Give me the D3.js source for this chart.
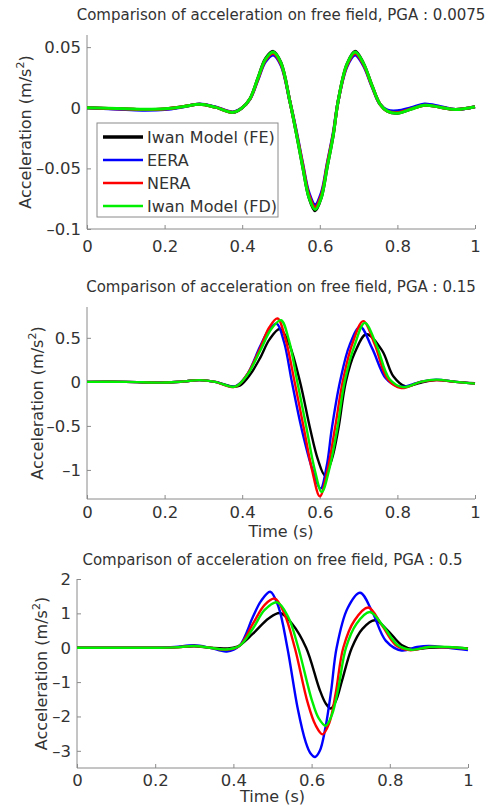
<!DOCTYPE html>
<html>
<head>
<meta charset="utf-8">
<script src="https://cdn.jsdelivr.net/npm/d3@7"></script>
<style>
body { margin: 0; background: #fff; }
svg text { font-family: "DejaVu Sans", sans-serif; fill: #333; }
.axis path, .axis line { stroke: #8a8a8a; }
.axis text { font-size: 16.5px; fill: #333; }
</style>
</head>
<body>
<script>
// ---- data ----
var seriesNames = ["Iwan Model (FE)", "EERA", "NERA", "Iwan Model (FD)"];
var seriesColors = ["#000000", "#0000ff", "#ff0000", "#00ee00"];

var xTicks = [0, 0.2, 0.4, 0.6, 0.8, 1];
var xTickLabels = ["0", "0.2", "0.4", "0.6", "0.8", "1"];

// panel 1, PGA 0.0075 (shared time axis)
var p1Time = [0, 0.1, 0.15, 0.2, 0.25, 0.29, 0.33, 0.377, 0.4, 0.42, 0.44, 0.46, 0.48, 0.5, 0.523, 0.54, 0.556, 0.572, 0.588, 0.604, 0.619, 0.635, 0.647, 0.67, 0.691, 0.712, 0.735, 0.755, 0.775, 0.8, 0.835, 0.87, 0.91, 0.95, 1.0];
var p1FE   = [0, -0.001, -0.0015, -0.001, 0.001, 0.0028, 0.0005, -0.0038, 0, 0.0075, 0.024, 0.0405, 0.0465, 0.0372, 0.005, -0.022, -0.049, -0.074, -0.085, -0.074, -0.049, -0.022, 0.005, 0.036, 0.0465, 0.037, 0.018, 0.003, -0.003, -0.0045, -0.001, 0.002, 0.0005, -0.0015, 0.0008];
var p1EERA = [0, -0.0015, -0.002, -0.0015, 0.0008, 0.003, 0.0008, -0.0035, 0, 0.007, 0.0225, 0.038, 0.0435, 0.035, 0.005, -0.02, -0.046, -0.07, -0.080, -0.07, -0.046, -0.02, 0.005, 0.034, 0.0435, 0.035, 0.017, 0.003, -0.002, -0.0025, 0, 0.003, 0.001, -0.0015, 0.0008];
var p1NERA = [0, -0.001, -0.0015, -0.001, 0.001, 0.0028, 0.0005, -0.0037, 0, 0.0072, 0.0232, 0.0392, 0.045, 0.036, 0.005, -0.021, -0.047, -0.072, -0.082, -0.072, -0.047, -0.021, 0.005, 0.035, 0.045, 0.036, 0.0175, 0.003, -0.003, -0.004, -0.001, 0.002, 0.0005, -0.0015, 0.0008];
var p1FD   = [0, -0.0008, -0.0012, -0.0008, 0.001, 0.0028, 0.0005, -0.0038, 0, 0.0074, 0.024, 0.04, 0.046, 0.037, 0.005, -0.022, -0.049, -0.074, -0.084, -0.074, -0.049, -0.022, 0.005, 0.036, 0.046, 0.037, 0.018, 0.003, -0.003, -0.0045, -0.0012, 0.002, 0.0005, -0.0015, 0.0008];
var p1YTicks = [-0.1, -0.05, 0, 0.05];

// panel 2, PGA 0.15  ([time, acceleration])
var p2FE = [[0,0],[0.1,0],[0.2,-0.008],[0.25,0.005],[0.29,0.02],[0.33,0],[0.377,-0.055],[0.395,-0.04],[0.42,0.08],[0.446,0.27],[0.47,0.48],[0.497,0.60],[0.52,0.44],[0.549,0],[0.575,-0.53],[0.595,-0.88],[0.613,-1.06],[0.631,-0.88],[0.648,-0.53],[0.667,0],[0.69,0.33],[0.72,0.54],[0.76,0.36],[0.79,0.06],[0.82,-0.05],[0.86,-0.01],[0.9,0.02],[0.95,0],[1.0,-0.015]];
var p2EERA = [[0,0],[0.1,0],[0.2,-0.008],[0.25,0.005],[0.29,0.02],[0.33,0],[0.377,-0.055],[0.39,-0.03],[0.415,0.1],[0.446,0.40],[0.47,0.6],[0.489,0.66],[0.508,0.45],[0.528,0],[0.553,-0.53],[0.58,-0.98],[0.602,-1.21],[0.618,-0.95],[0.631,-0.53],[0.652,0],[0.677,0.42],[0.704,0.625],[0.735,0.38],[0.77,0.04],[0.8,-0.05],[0.815,-0.055],[0.86,0],[0.9,0.025],[0.95,0],[1.0,-0.02]];
var p2NERA = [[0,0],[0.1,0],[0.2,-0.008],[0.25,0.005],[0.29,0.02],[0.33,0],[0.377,-0.06],[0.39,-0.035],[0.415,0.1],[0.446,0.38],[0.47,0.62],[0.491,0.72],[0.512,0.48],[0.535,0],[0.559,-0.53],[0.58,-1.0],[0.6,-1.30],[0.62,-1.0],[0.639,-0.53],[0.659,0],[0.683,0.42],[0.712,0.69],[0.742,0.42],[0.775,0.03],[0.81,-0.07],[0.86,0],[0.9,0.02],[0.95,0],[1.0,-0.02]];
var p2FD = [[0,0],[0.1,0],[0.2,-0.008],[0.25,0.005],[0.29,0.02],[0.33,0],[0.377,-0.058],[0.39,-0.035],[0.415,0.09],[0.446,0.35],[0.475,0.6],[0.50,0.70],[0.52,0.48],[0.542,0],[0.566,-0.53],[0.586,-0.98],[0.605,-1.25],[0.625,-0.98],[0.645,-0.53],[0.664,0],[0.69,0.42],[0.716,0.67],[0.746,0.42],[0.78,0.03],[0.815,-0.06],[0.86,0],[0.9,0.025],[0.95,0],[1.0,-0.02]];
var p2YTicks = [-1, -0.5, 0, 0.5];

// panel 3, PGA 0.5
var p3FE = [[0,0],[0.1,0],[0.2,0],[0.25,0.01],[0.3,0.04],[0.34,0],[0.38,-0.02],[0.41,0.03],[0.45,0.41],[0.49,0.85],[0.519,1.01],[0.55,0.7],[0.586,0],[0.62,-1.2],[0.636,-1.62],[0.649,-1.77],[0.662,-1.55],[0.678,-0.95],[0.703,0],[0.73,0.55],[0.762,0.80],[0.795,0.5],[0.83,0.08],[0.86,-0.04],[0.9,0],[0.95,0.01],[1.0,-0.02]];
var p3EERA = [[0,0],[0.1,0],[0.2,0],[0.25,0.02],[0.3,0.07],[0.34,0],[0.383,-0.11],[0.415,0.05],[0.45,0.90],[0.47,1.35],[0.494,1.63],[0.515,1.2],[0.538,0],[0.565,-1.8],[0.585,-2.75],[0.597,-3.07],[0.609,-3.18],[0.621,-3.0],[0.635,-2.35],[0.65,-1.25],[0.664,0],[0.692,1.15],[0.724,1.60],[0.755,1.05],[0.79,0.2],[0.83,-0.08],[0.87,0.02],[0.9,0.05],[0.95,0],[1.0,-0.07]];
var p3NERA = [[0,0],[0.1,0],[0.2,0],[0.25,0.01],[0.3,0.05],[0.34,0],[0.38,-0.06],[0.415,0.05],[0.45,0.70],[0.48,1.25],[0.506,1.43],[0.53,1.0],[0.557,0],[0.59,-1.6],[0.61,-2.25],[0.628,-2.52],[0.645,-2.2],[0.662,-1.3],[0.681,0],[0.71,0.8],[0.745,1.17],[0.78,0.65],[0.815,0.08],[0.85,-0.07],[0.9,0.02],[0.95,0.01],[1.0,-0.03]];
var p3FD = [[0,0],[0.1,0],[0.2,0],[0.25,0.01],[0.3,0.05],[0.34,0],[0.38,-0.05],[0.415,0.05],[0.45,0.56],[0.48,1.1],[0.512,1.32],[0.54,0.9],[0.566,0],[0.6,-1.5],[0.618,-2.05],[0.636,-2.27],[0.652,-1.95],[0.668,-1.2],[0.688,0],[0.715,0.7],[0.749,1.04],[0.785,0.6],[0.82,0.08],[0.855,-0.06],[0.9,0.02],[0.95,0.02],[1.0,-0.03]];
var p3YTicks = [-3, -2, -1, 0, 1, 2];

// ---- build ----
var W = 493, H = 806;
var svg = d3.select("body").append("svg")
    .attr("width", W)
    .attr("height", H);

function zipTime(t, v) { return t.map(function(d, i) { return [d, v[i]]; }); }

var panels = [
  { title: "Comparison of acceleration on free field, PGA : 0.0075",
    left: 87, right: 475, top: 35, bottom: 229, ydom: [-0.1, 0.06], yticks: p1YTicks,
    series: [zipTime(p1Time, p1FE), zipTime(p1Time, p1EERA), zipTime(p1Time, p1NERA), zipTime(p1Time, p1FD)],
    lw: 3, titleY: 20, tickY: 252, ylabX: 31, xlabel: null, legend: true },
  { title: "Comparison of acceleration on free field, PGA : 0.15",
    left: 87, right: 475, top: 307, bottom: 499, ydom: [-1.33, 0.85], yticks: p2YTicks,
    series: [p2FE, p2EERA, p2NERA, p2FD],
    lw: 2.4, titleY: 292, tickY: 518, ylabX: 43, xlabel: 537, legend: false },
  { title: "Comparison of acceleration on free field, PGA : 0.5",
    left: 77, right: 468, top: 579, bottom: 768, ydom: [-3.5, 2], yticks: p3YTicks,
    series: [p3FE, p3EERA, p3NERA, p3FD],
    lw: 2.4, titleY: 565, tickY: 786, ylabX: 47, xlabel: 802, legend: false }
];

// matlab style short minus
var fmt = function(d) { return String(d).replace("-", "\u2013"); };

panels.forEach(function(p, pi) {
  var x = d3.scaleLinear().domain([0, 1]).range([p.left, p.right]);
  var y = d3.scaleLinear().domain(p.ydom).range([p.bottom, p.top]);
  var g = svg.append("g");

  g.append("clipPath").attr("id", "clip" + pi)
    .append("rect")
      .attr("x", p.left).attr("y", p.top - 2)
      .attr("width", p.right - p.left + 2).attr("height", p.bottom - p.top + 2);

  // title
  g.append("text")
      .attr("x", (p.left + p.right) / 2)
      .attr("y", p.titleY)
      .attr("text-anchor", "middle")
      .style("font-size", "15px")
      .text(p.title);

  // x axis
  var xa = g.append("g").attr("class", "axis")
      .attr("transform", "translate(0," + p.bottom + ")")
      .call(d3.axisBottom(x).tickValues(xTicks)
        .tickFormat(function(d, i) { return xTickLabels[i]; })
        .tickSizeInner(-4).tickSizeOuter(0));
  xa.selectAll("text").attr("y", p.tickY - p.bottom).attr("dy", 0);

  // y axis
  var ya = g.append("g").attr("class", "axis")
      .attr("transform", "translate(" + p.left + ",0)")
      .call(d3.axisLeft(y).tickValues(p.yticks).tickFormat(fmt)
        .tickSizeInner(-4).tickSizeOuter(0));
  ya.selectAll("text").attr("x", -6);
  ya.select(".domain").attr("d", "M0," + p.top + "V" + p.bottom);
  xa.select(".domain").attr("d", "M" + p.left + ",0H" + p.right);

  // y label
  var yl = g.append("text")
      .attr("transform", "translate(" + p.ylabX + "," + ((p.top + p.bottom) / 2) + ") rotate(-90)")
      .attr("text-anchor", "middle")
      .style("font-size", "16px");
  yl.append("tspan").text("Acceleration (m/s");
  yl.append("tspan").attr("dy", -7).style("font-size", "11px").text("2");
  yl.append("tspan").attr("dy", 7).text(")");

  if (p.xlabel) {
    g.append("text")
        .attr("x", (p.left + p.right) / 2)
        .attr("y", p.xlabel)
        .attr("text-anchor", "middle")
        .style("font-size", "16px")
        .text("Time (s)");
  }

  var line = d3.line()
      .x(function(d) { return x(d[0]); })
      .y(function(d) { return y(d[1]); })
      .curve(d3.curveCatmullRom.alpha(0.5));

  g.append("g").attr("clip-path", "url(#clip" + pi + ")")
    .selectAll("path.series")
    .data(p.series)
    .enter().append("path")
      .attr("class", "series")
      .attr("d", line)
      .attr("fill", "none")
      .attr("stroke", function(d, i) { return seriesColors[i]; })
      .attr("stroke-width", p.lw)
      .attr("stroke-linejoin", "round");

  if (p.legend) {
    var lg = g.append("g");
    lg.append("rect")
        .attr("x", 97).attr("y", 123)
        .attr("width", 181).attr("height", 94)
        .attr("fill", "#fff").attr("stroke", "#8a8a8a");
    var rows = lg.selectAll("g.row")
        .data(seriesNames)
        .enter().append("g")
        .attr("transform", function(d, i) { return "translate(0," + (137 + i * 23) + ")"; });
    rows.append("line")
        .attr("x1", 103).attr("x2", 143)
        .attr("stroke", function(d, i) { return seriesColors[i]; })
        .attr("stroke-width", function(d, i) { return i === 0 ? 3.5 : 2.5; });
    rows.append("text")
        .attr("x", 147).attr("dy", "0.35em")
        .style("font-size", "16px")
        .text(function(d) { return d; });
  }
});
</script>
</body>
</html>
